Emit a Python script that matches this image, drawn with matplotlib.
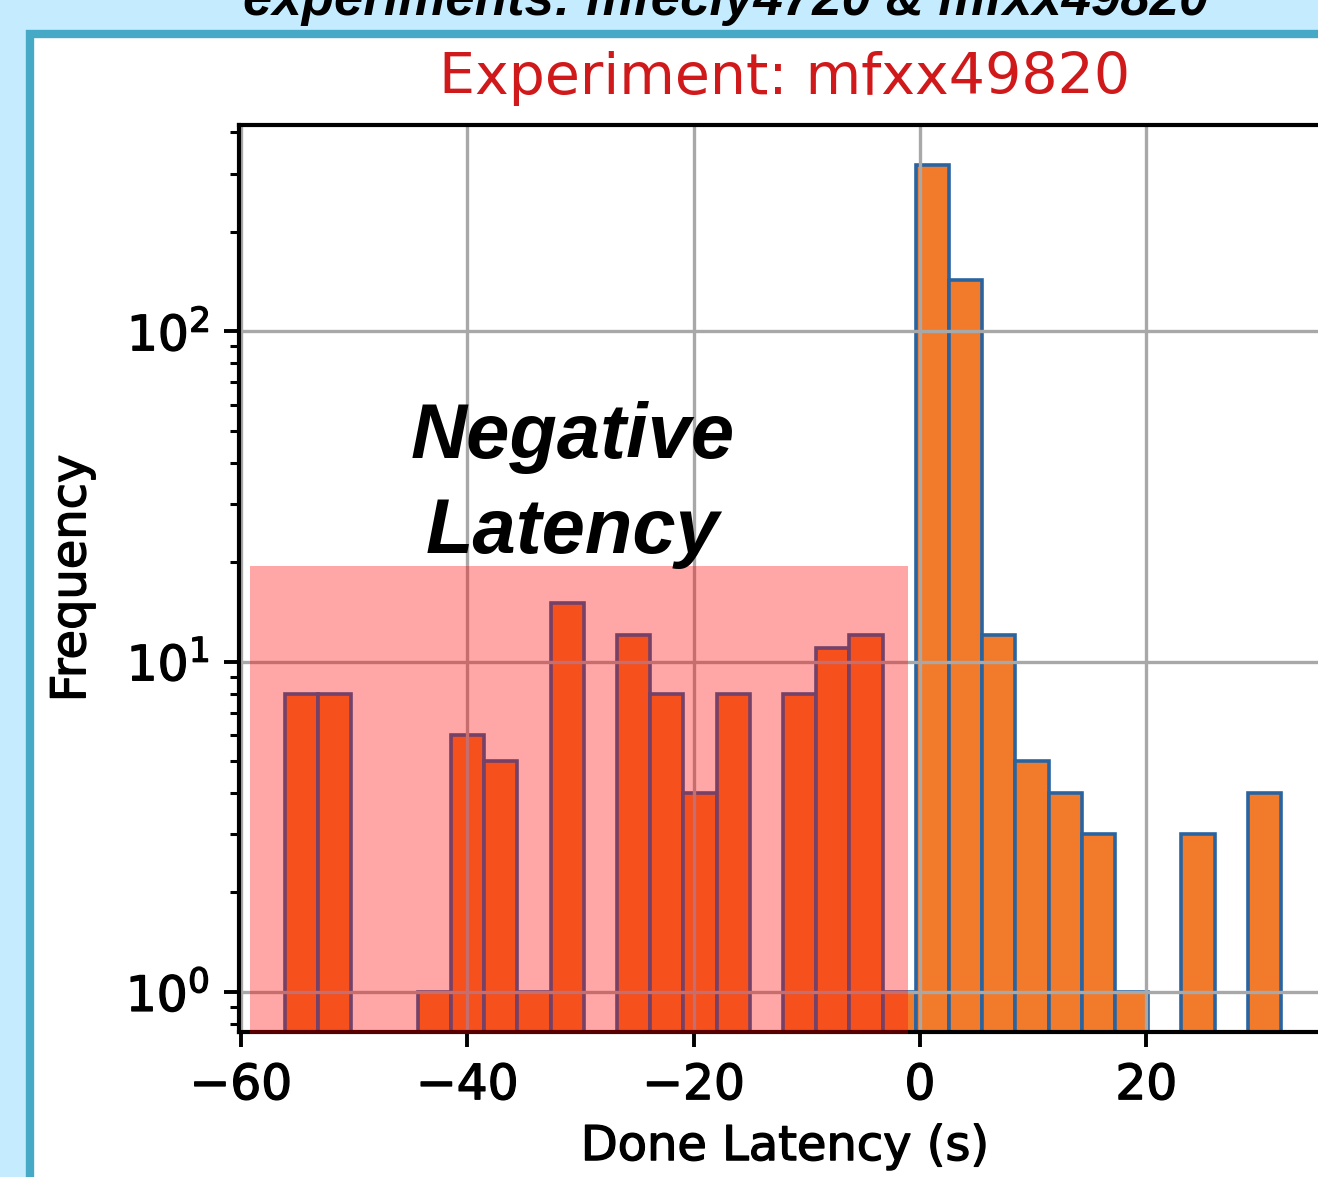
import numpy as np
import matplotlib
matplotlib.use("Agg")
from matplotlib import pyplot as plt
from matplotlib import font_manager
from matplotlib import patheffects
from matplotlib.patches import Rectangle

# histogram of done latency (s), 30 equal bins
bin_lo = -56.1
bin_hi = 31.9
counts = [8, 8, 0, 0, 1, 6, 5, 1, 15, 0,
          12, 8, 4, 8, 0, 8, 11, 12, 1, 318,
          143, 12, 5, 4, 3, 1, 0, 3, 0, 4]

slide_title = "experiments: mfecly4720 & mfxx49820"
chart_title = "Experiment: mfxx49820"
x_label = "Done Latency (s)"
y_label = "Frequency"
note = ["Negative", "Latency"]

W, H = 1318, 1177
fig = plt.figure(figsize=(W / 100, H / 100), dpi=100)
fig.patch.set_facecolor("#c4ecfe")

# white slide panel with teal border
panel = Rectangle((30 / W, -0.1), 1.2, 1 - 34 / H + 0.1, transform=fig.transFigure,
                  facecolor="white", edgecolor="#46a9c5", linewidth=6, zorder=-10)
fig.patches.append(panel)

names = {f.name for f in font_manager.fontManager.ttflist}
if "Liberation Sans Narrow" in names:
    fig.text(726 / W, 1 - 15 / H, slide_title, ha="center", va="baseline",
             family="Liberation Sans Narrow", weight="bold", style="italic", fontsize=46)
else:
    fig.text(726 / W, 1 - 15 / H, slide_title, ha="center", va="baseline",
             family="Liberation Sans", weight="bold", style="italic", fontsize=38)

ax = fig.add_axes([238.7 / W, (H - 1032) / H, (1330.8 - 238.7) / W, (1032 - 125) / H])
ax.set_yscale("log")

edges = np.linspace(bin_lo, bin_hi, len(counts) + 1)
width = edges[1] - edges[0]
for left, c in zip(edges[:-1], counts):
    if c > 0:
        ax.bar(left, c, width=width, align="edge", color="#f27b2b",
               edgecolor="#2a64a0", linewidth=2.6)

ax.set_xlim(-60.2, 36.3)
ax.set_ylim(0.756, 421)
ax.set_xticks([-60, -40, -20, 0, 20])
ax.grid(True, color="#a8a8a8", linewidth=2.4)

for s in ax.spines.values():
    s.set_linewidth(3.0)
ax.tick_params(which="major", length=11, width=2.8, labelsize=35, pad=10)
ax.tick_params(which="minor", length=6.5, width=2.2)

# the screenshot was upscaled, so strokes look a little heavier
thick = [patheffects.withStroke(linewidth=1.0, foreground="black")]
for lab in ax.get_xticklabels() + ax.get_yticklabels():
    lab.set_path_effects(thick)

ax.set_title(chart_title, color="#d0191b", fontsize=41, pad=22)
ax.set_xlabel(x_label, fontsize=34.5, labelpad=10, path_effects=thick)
ax.set_ylabel(y_label, fontsize=34.5, labelpad=22, path_effects=thick)

# pink highlight over negative latencies
ax.add_patch(Rectangle((-59.2, 0.745), 58.15, 19.5 - 0.745, facecolor="red",
                       alpha=0.35, linewidth=0, zorder=5, clip_on=False))

fig.text(573 / W, 1 - 458 / H, note[0], ha="center", va="baseline", family="Liberation Sans",
         weight="bold", style="italic", fontsize=56, zorder=10)
fig.text(573 / W, 1 - 553 / H, note[1], ha="center", va="baseline", family="Liberation Sans",
         weight="bold", style="italic", fontsize=56, zorder=10)

fig.savefig("out.png", dpi=100, facecolor=fig.get_facecolor())
